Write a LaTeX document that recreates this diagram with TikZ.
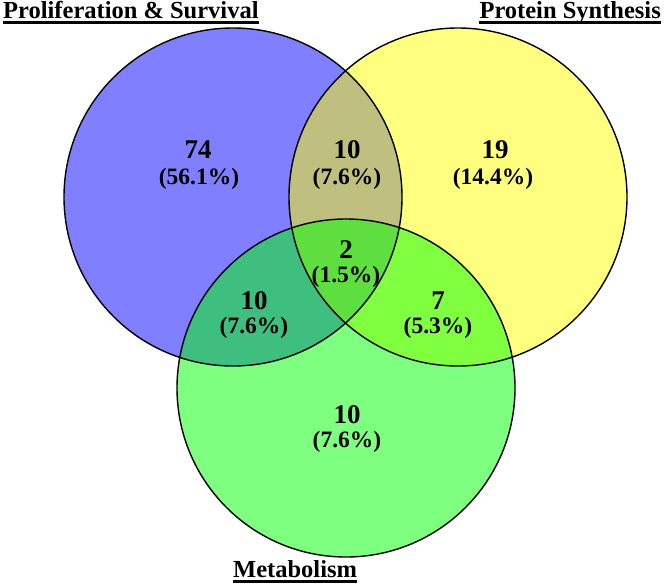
\documentclass[tikz,border=0pt]{standalone}
\usepackage{fontspec}
\setmainfont{Liberation Serif}
\begin{document}
\begin{tikzpicture}[x=1pt,y=-1pt,
  setcircle/.style={fill opacity=0.5},
  rim/.style={draw=black,line width=1.4pt},
  num/.style={font=\bfseries\fontsize{27}{29}\selectfont,inner sep=0pt,anchor=base},
  pct/.style={font=\bfseries\fontsize{23.5}{26}\selectfont,inner sep=0pt,anchor=base},
  ttl/.style={font=\bfseries\fontsize{24.5}{27}\selectfont,inner sep=0pt},
  uline/.style={line width=2.2pt}]
\useasboundingbox (0,0) rectangle (666,587);
\coordinate (cb) at (233,197);
\coordinate (cy) at (458,197);
\coordinate (cg) at (346,388);
\fill[setcircle,fill={rgb,255:red,0;green,0;blue,255}] (cb) circle[radius=169pt];
\fill[setcircle,fill={rgb,255:red,255;green,255;blue,0}] (cy) circle[radius=169pt];
\fill[setcircle,fill={rgb,255:red,0;green,255;blue,0}] (cg) circle[radius=169pt];
\draw[rim] (cb) circle[radius=169pt];
\draw[rim] (cy) circle[radius=169pt];
\draw[rim] (cg) circle[radius=169pt];
% counts
\node[num] (a1) at (198,158) {74};
\node[pct] (a2) at (199,184) {(56.1\%)};
\node[num] (b1) at (347,158) {10};
\node[pct] (b2) at (347,184) {(7.6\%)};
\node[num] (c1) at (495,158) {19};
\node[pct] (c2) at (493,184) {(14.4\%)};
\node[num] (d1) at (346,258) {2};
\node[pct] (d2) at (346,282) {(1.5\%)};
\node[num] (e1) at (254,309) {10};
\node[pct] (e2) at (254,333) {(7.6\%)};
\node[num] (f1) at (438,309) {7};
\node[pct] (f2) at (438,333) {(5.3\%)};
\node[num] (g1) at (347,423) {10};
\node[pct] (g2) at (347,447) {(7.6\%)};
% titles
\node[ttl,anchor=base west] (t1) at (3,18) {Proliferation \& Survival};
\draw[uline] ([yshift=-4.5pt]t1.base west) -- ([yshift=-4.5pt]t1.base east);
\node[ttl,anchor=base east] (t2) at (661,18) {Protein Synthesis};
\draw[uline] ([yshift=-4.5pt]t2.base west) -- ([yshift=-4.5pt]t2.base east);
\node[ttl,anchor=base west] (t3) at (233,577) {Metabolism};
\draw[uline] ([yshift=-4.5pt]t3.base west) -- ([yshift=-4.5pt]t3.base east);
\end{tikzpicture}
\end{document}
